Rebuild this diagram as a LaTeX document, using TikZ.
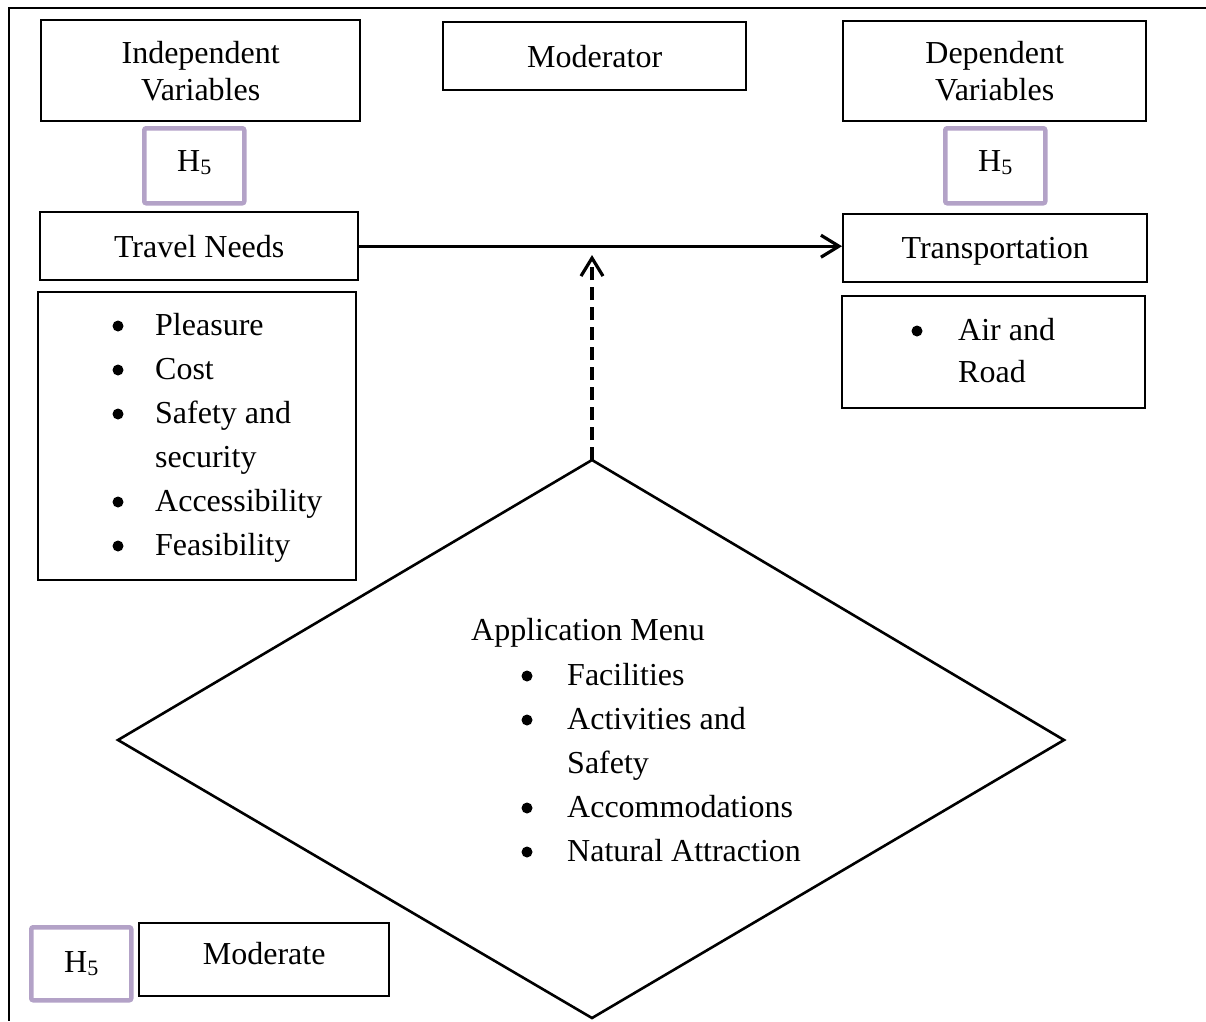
\documentclass[tikz,border=0pt]{standalone}
\usepackage{fontspec}
\setmainfont{Liberation Serif}
\usetikzlibrary{arrows.meta}
\definecolor{hypo}{HTML}{B3A2C7}
\newcommand\txt{\fontsize{32}{37}\selectfont}
\newcommand\hyp{H\raisebox{-3pt}{\fontsize{22}{22}\selectfont 5}}
% move content vertically without changing the node size
\newcommand\shiftv[2]{\raisebox{#1}[\height][\depth]{#2}}
\tikzset{
  box/.style={draw=black, line width=2.4pt, anchor=north west, inner sep=0pt,
              align=center, font=\txt},
  hbox/.style={draw=hypo, line width=4.5pt, rounded corners=2pt, anchor=north west,
               inner sep=0pt, minimum width=100pt, minimum height=75pt, font=\txt},
  item/.style={anchor=base west, inner sep=0pt, font=\txt},
  dot/.style={fill=black, circle, inner sep=0pt, minimum size=11pt},
  link/.style={line width=3.2pt,
               -{Straight Barb[length=18pt,width=22pt,line width=3.2pt]}},
  frame/.style={line width=2.6pt},
}
\begin{document}
\begin{tikzpicture}[x=1pt, y=-1pt]
\useasboundingbox (0,0) rectangle (1206,1021);

% outer frame (top and left edges)
\draw[frame] (1206,8) -- (9,8) -- (9,1021);

% headings
\node[box, minimum width=319pt, minimum height=101pt] (iv) at (40,19) {Independent\\Variables};
\node[box, minimum width=303pt, minimum height=68pt] (mod) at (442,21) {Moderator};
\node[box, minimum width=303pt, minimum height=100pt] (dv) at (842,20) {Dependent\\Variables};

% hypothesis tags
\node[hbox] (h1) at (142,126) {\shiftv{3pt}{\hyp}};
\node[hbox] (h2) at (943,126) {\shiftv{3pt}{\hyp}};
\node[hbox, minimum height=73pt] (h3) at (29,925) {\hyp};

% variable boxes
\node[box, minimum width=318pt, minimum height=68pt] (tn) at (39,211) {Travel Needs};
\node[box, minimum width=304pt, minimum height=68pt] (tr) at (842,213) {\shiftv{-3pt}{Transportation}};

% independent variable items
\node[box, minimum width=318pt, minimum height=288pt] (ivl) at (37,291) {};
\foreach \name/\t/\yb in {p1/Pleasure/335, p2/Cost/379, p3/Safety and/423,
                          p4/security/467, p5/Accessibility/511, p6/Feasibility/555}{
  \node[item] (\name) at (155,\yb) {\t};
}
\foreach \name/\yb in {b1/335, b2/379, b3/423, b5/511, b6/555}{
  \node[dot] (\name) at (118,\yb-9) {};
}

% dependent variable items
\node[box, minimum width=303pt, minimum height=112pt] (dvl) at (841,295) {};
\node[dot] (b7) at (917,331) {};
\node[item] (q1) at (958,340) {Air and};
\node[item] (q2) at (958,382) {Road};

% moderator diamond
\coordinate (dtop) at (592,460);
\coordinate (dright) at (1064,740);
\coordinate (dbot) at (592,1018);
\coordinate (dleft) at (118,740);
\draw[frame, line join=miter] (dtop) -- (dright) -- (dbot) -- (dleft) -- cycle;
\node[item] (am) at (471,640) {Application Menu};
\foreach \name/\t/\yb in {m1/Facilities/685, m2/Activities and/729, m3/Safety/773,
                          m4/Accommodations/817, m5/Natural Attraction/861}{
  \node[item] (\name) at (567,\yb) {\t};
}
\foreach \name/\yb in {c1/685, c2/729, c4/817, c5/861}{
  \node[dot] (\name) at (527,\yb-9) {};
}

% legend
\node[box, minimum width=250pt, minimum height=73pt] (mdt) at (138,922) {\shiftv{6pt}{Moderate}};

% connectors
\draw[link] (tn.east) -- (tn.east -| tr.west);
\coordinate (hit) at (592,255);
\draw[link, dash pattern=on 13pt off 7pt] (dtop) -- (hit);
\end{tikzpicture}
\end{document}
